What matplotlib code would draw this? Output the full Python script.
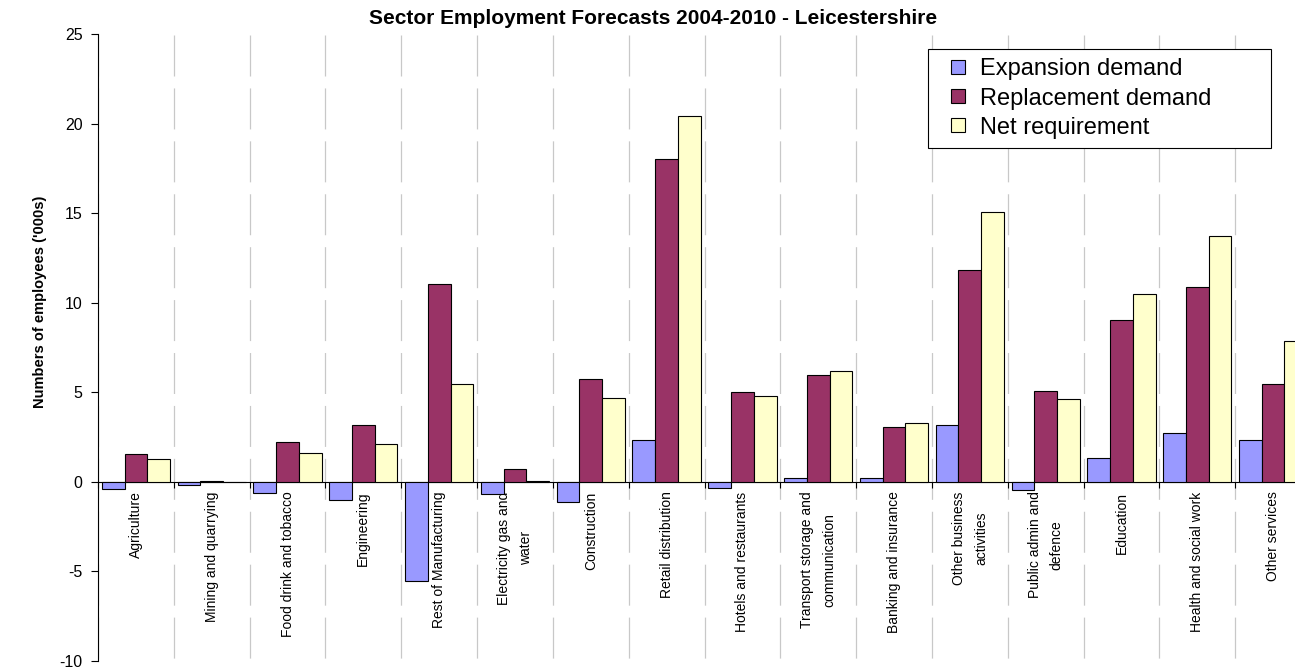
import numpy as np
import matplotlib
matplotlib.use("Agg")
import matplotlib.pyplot as plt
from matplotlib.lines import Line2D

plt.rcParams["font.family"] = ["Liberation Sans", "DejaVu Sans"]
plt.rcParams["lines.scale_dashes"] = False
plt.rcParams["axes.unicode_minus"] = False

# sector labels as printed under the axis
sectors = [
    "Agriculture", "Mining and quarrying", "Food drink and tobacco", "Engineering",
    "Rest of Manufacturing", "Electricity gas and\nwater", "Construction",
    "Retail distribution", "Hotels and restaurants", "Transport storage and\ncommunication",
    "Banking and insurance", "Other business\nactivities", "Public admin and\ndefence",
    "Education", "Health and social work", "Other services",
]
series_names = ["Expansion demand", "Replacement demand", "Net requirement"]

# employees, thousands
expansion = [-0.39, -0.17, -0.61, -1.04, -5.52, -0.67, -1.13, 2.36,
             -0.37, 0.24, 0.2, 3.2, -0.44, 1.33, 2.75, 2.36]
replacement = [1.55, 0.07, 2.22, 3.2, 11.06, 0.72, 5.74, 18.03,
               5.04, 5.98, 3.05, 11.82, 5.07, 9.03, 10.9, 5.44]
net_requirement = [1.25, 0.0, 1.62, 2.14, 5.49, 0.06, 4.69, 20.4,
                   4.77, 6.2, 3.28, 15.04, 4.62, 10.46, 13.75, 7.84]

colors = ["#9999FF", "#993366", "#FFFFCC"]

W, H = 1295, 670
fig = plt.figure(figsize=(W / 100, H / 100), dpi=100)
# plot area runs past the right edge, like the original (last group is clipped)
ax = fig.add_axes([98 / W, 9 / H, 1213 / W, 627 / H])

x = np.arange(len(sectors))
bw = 0.3
for i, vals in enumerate([expansion, replacement, net_requirement]):
    ax.bar(x + (i - 1) * bw, vals, bw, color=colors[i], edgecolor="black",
           linewidth=0.8, zorder=3)

ax.set_xlim(-0.5, len(sectors) - 0.5)
ax.set_ylim(-10, 25)
ax.set_yticks(range(-10, 26, 5))

for s in ("top", "right"):
    ax.spines[s].set_visible(False)
ax.spines["bottom"].set_position(("data", 0))
ax.spines["bottom"].set_linewidth(0.8)
ax.spines["left"].set_linewidth(0.8)

ax.set_xticks(x)
ax.set_xticklabels(sectors, rotation=90, fontsize=10)
for lbl in ax.get_xticklabels():
    lbl.set_multialignment("center")
    lbl.set_linespacing(1.75)
ax.set_xticks(np.arange(-0.5, len(sectors), 1), minor=True)
ax.tick_params(axis="x", which="major", length=0, pad=7)
ax.tick_params(axis="x", which="minor", length=4, width=0.8, direction="out")
ax.tick_params(axis="y", length=5, width=0.8, labelsize=11.5, pad=6)

ax.set_axisbelow(True)
ax.grid(which="minor", axis="x", color="#C8C8C8", linewidth=0.9,
        linestyle=(36, (29.5, 8.6)))

handles = [Line2D([], [], linestyle="none", marker="s", markersize=10,
                  markerfacecolor=c, markeredgecolor="black", markeredgewidth=0.8)
           for c in colors]
leg = ax.legend(handles, series_names, loc="upper left",
                bbox_to_anchor=(928 / W, 1 - 146 / H, 343 / W, 97 / H),
                bbox_transform=fig.transFigure, mode="expand", fontsize=17,
                fancybox=False, edgecolor="black", framealpha=1, borderaxespad=0,
                handlelength=1.7, handletextpad=0.1, labelspacing=0.3,
                borderpad=0.4)
leg.get_frame().set_linewidth(0.8)
leg.set_zorder(5)

fig.text(653 / W, 1 - 19 / H, "Sector Employment Forecasts 2004-2010 - Leicestershire",
         ha="center", va="center", fontsize=15, fontweight="bold")
fig.text(40 / W, 1 - 302 / H, "Numbers of employees ('000s)", rotation=90,
         ha="center", va="center", fontsize=10.5, fontweight="bold")

fig.savefig("out.png", dpi=100)
